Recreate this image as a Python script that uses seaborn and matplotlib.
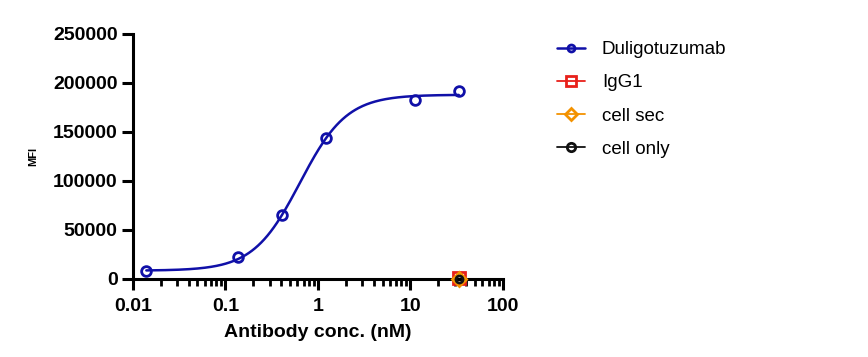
import numpy as np
import pandas as pd
import seaborn as sns
import matplotlib.pyplot as plt
from matplotlib.lines import Line2D
from matplotlib.ticker import LogLocator, NullFormatter

conc = [0.014, 0.137, 0.41, 1.23, 11.1, 33.3]
mfi = [8200, 22500, 65300, 144000, 182600, 191800]

# control series, single point each at top concentration
ctrl_names = ['IgG1', 'cell sec', 'cell only']
ctrl_conc = [33.3, 33.3, 33.3]
ctrl_mfi = [600, 400, 300]

# 4PL fit parameters estimated from the curve
fit_bottom, fit_top, fit_ec50, fit_hill = 8500, 188000, 0.64, 1.72

xs = np.logspace(np.log10(conc[0]), np.log10(conc[-1]), 300)
ys = fit_bottom + (fit_top - fit_bottom) / (1 + (fit_ec50 / xs) ** fit_hill)
curve = pd.DataFrame({'x': xs, 'y': ys})

sns.set_style('ticks')
plt.rcParams['font.family'] = ['Liberation Sans', 'DejaVu Sans']
plt.rcParams['text.color'] = 'black'
plt.rcParams['axes.labelcolor'] = 'black'
plt.rcParams['xtick.color'] = 'black'
plt.rcParams['ytick.color'] = 'black'
plt.rcParams['axes.edgecolor'] = 'black'

blue = '#1010A8'
colors = ['#E8201A', '#F39200', '#111111']
markers = ['s', 'D', 'o']
msizes = [9, 7, 5]

fig = plt.figure(figsize=(8.68, 3.57), dpi=100)
ax = fig.add_axes([0.153, 0.2185, 0.4265, 0.6863])

sns.lineplot(data=curve, x='x', y='y', color=blue, lw=1.8, ax=ax)
ax.plot(conc, mfi, ls='none', marker='o', ms=7, mfc='none', mec=blue, mew=2, clip_on=False)
for name, cx, cy, c, m, s in zip(ctrl_names, ctrl_conc, ctrl_mfi, colors, markers, msizes):
    ax.plot([cx], [cy], ls='none', marker=m, ms=s, mfc='none', mec=c, mew=2, clip_on=False, zorder=5)

ax.set_xscale('log')
ax.set_xlim(0.01, 100)
ax.set_ylim(0, 250000)
ax.set_xticks([0.01, 0.1, 1, 10, 100])
ax.set_xticklabels(['0.01', '0.1', '1', '10', '100'])
ax.xaxis.set_minor_locator(LogLocator(base=10, subs=np.arange(2, 10)))
ax.xaxis.set_minor_formatter(NullFormatter())
ax.set_yticks([0, 50000, 100000, 150000, 200000, 250000])
ax.set_yticklabels(['0', '50000', '100000', '150000', '200000', '250000'])

for s in ['top', 'right']:
    ax.spines[s].set_visible(False)
for s in ['left', 'bottom']:
    ax.spines[s].set_linewidth(2.2)
ax.tick_params(axis='both', which='major', width=2.2, length=8, labelsize=14, pad=3)
ax.tick_params(axis='x', which='major', pad=6)
ax.tick_params(axis='x', which='minor', width=2, length=5)
for lab in ax.get_xticklabels() + ax.get_yticklabels():
    lab.set_fontweight('bold')

ax.set_xlabel('Antibody conc. (nM)', fontsize=14, fontweight='bold', labelpad=6)
ax.set_ylabel('MFI', fontsize=8, fontweight='bold')
ax.yaxis.set_label_coords(-0.255, 0.5)

handles = [Line2D([], [], color=blue, lw=1.8, marker='o', ms=5, mfc='none', mec=blue, mew=2)]
for c, m, s in zip(colors, markers, [7, 6, 6]):
    handles.append(Line2D([], [], color=c, lw=1.3, marker=m, ms=s, mfc='none', mec=c, mew=2))
ax.legend(handles, ['Duligotuzumab'] + ctrl_names, loc='upper left',
          bbox_to_anchor=(1.1, 1.04), frameon=False, fontsize=13.5,
          handlelength=1.5, handletextpad=0.9, labelspacing=0.86)

fig.savefig('out.png', dpi=100)
